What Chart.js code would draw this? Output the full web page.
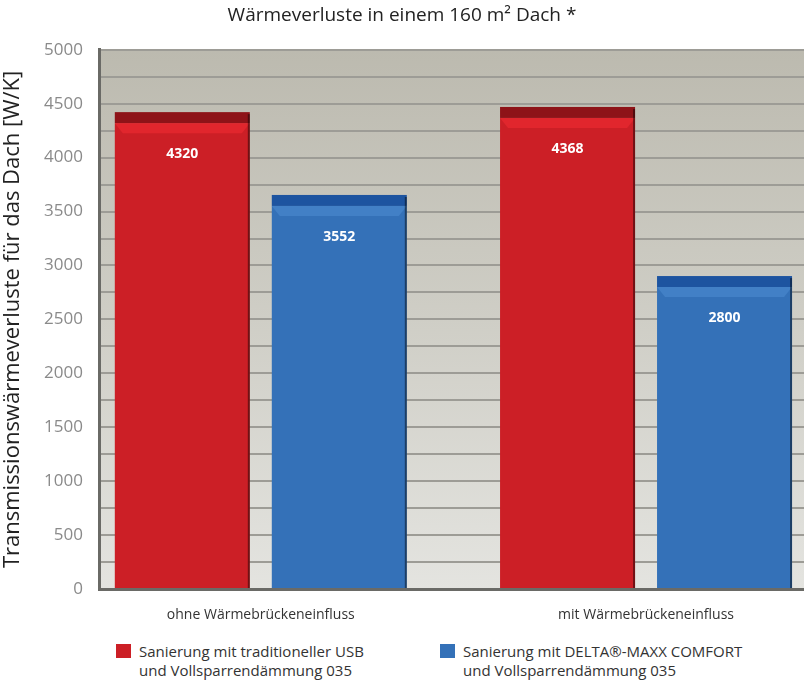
<!DOCTYPE html>
<html lang="de">
<head>
<meta charset="utf-8">
<title>Wärmeverluste in einem 160 m² Dach</title>
<script src="https://cdn.jsdelivr.net/npm/chart.js@4"></script>
<style>
  html, body { margin: 0; padding: 0; background: #fff; }
  body { width: 804px; height: 683px; position: relative; overflow: hidden;
         font-family: "Open Sans", "DejaVu Sans", sans-serif; }
  #wrap { position: absolute; left: 0; top: 0; width: 804px; height: 632px; }
  .legend { position: absolute; top: 642px; font-size: 15px; line-height: 19px; color: #333; }
  .legend .sq { position: absolute; left: 0; top: 2px; width: 15px; height: 14px; }
  .legend .txt { position: absolute; left: 23px; top: 0; white-space: nowrap; }
</style>
</head>
<body>
<div id="wrap"><canvas id="chart"></canvas></div>
<div class="legend" style="left:116px"><span class="sq" style="background:#cc1f26"></span><span class="txt">Sanierung mit traditioneller USB<br>und Vollsparrendämmung 035</span></div>
<div class="legend" style="left:440px"><span class="sq" style="background:#3471b8"></span><span class="txt">Sanierung mit DELTA®-MAXX COMFORT<br>und Vollsparrendämmung 035</span></div>
<script>
  // --- data ---
  const categories = ["ohne Wärmebrückeneinfluss", "mit Wärmebrückeneinfluss"];
  const seriesNames = [
    "Sanierung mit traditioneller USB und Vollsparrendämmung 035",
    "Sanierung mit DELTA®-MAXX COMFORT und Vollsparrendämmung 035",
  ];
  const usbValues = [4320, 4368];
  const deltaValues = [3552, 2800];
  const yTicks = [0, 500, 1000, 1500, 2000, 2500, 3000, 3500, 4000, 4500, 5000];

  const RED = "#cc1f26", RED_DARK = "#8e1318", RED_LIGHT = "#e1262d";
  const BLUE = "#3471b8", BLUE_DARK = "#1d54a0", BLUE_LIGHT = "#4280c6";

  // gray plot background
  const plotBg = {
    id: "plotBg",
    beforeDraw(chart) {
      const { ctx, chartArea: a } = chart;
      const g = ctx.createLinearGradient(0, a.top, 0, a.bottom);
      g.addColorStop(0, "#bcbaaf");
      g.addColorStop(0.5, "#cfcec6");
      g.addColorStop(1, "#e4e4e0");
      ctx.save();
      ctx.fillStyle = g;
      ctx.fillRect(a.left, a.top, a.right - a.left, a.bottom - a.top);
      ctx.restore();
    },
  };

  // bevelled top of the bars + value labels
  const barDeco = {
    id: "barDeco",
    afterDatasetsDraw(chart) {
      const { ctx } = chart;
      ctx.save();
      chart.data.datasets.forEach((ds, di) => {
        const meta = chart.getDatasetMeta(di);
        const dark = di === 0 ? RED_DARK : BLUE_DARK;
        const light = di === 0 ? RED_LIGHT : BLUE_LIGHT;
        meta.data.forEach((bar, i) => {
          const l = bar.x - bar.width / 2, r = bar.x + bar.width / 2, t = bar.y;
          ctx.fillStyle = dark;
          ctx.fillRect(l, t - 11, r - l, 11);
          ctx.fillStyle = light;
          ctx.beginPath();
          ctx.moveTo(l, t);
          ctx.lineTo(r, t);
          ctx.lineTo(r - 8, t + 10);
          ctx.lineTo(l + 8, t + 10);
          ctx.closePath();
          ctx.fill();
          ctx.fillStyle = "rgba(0,0,0,0.45)";
          ctx.fillRect(r - 2, t - 9, 2, bar.base - t + 9);
          ctx.fillStyle = "#ffffff";
          ctx.font = "bold 14px 'Open Sans', sans-serif";
          ctx.textAlign = "center";
          ctx.textBaseline = "middle";
          ctx.fillText(String(ds.data[i].y), bar.x, t + 31);
        });
      });
      ctx.restore();
    },
  };

  new Chart(document.getElementById("chart"), {
    type: "bar",
    data: {
      datasets: [
        {
          label: seriesNames[0],
          data: usbValues.map((v, i) => ({ x: i, y: v })),
          backgroundColor: RED,
        },
        {
          label: seriesNames[1],
          data: deltaValues.map((v, i) => ({ x: i, y: v })),
          backgroundColor: BLUE,
        },
      ],
    },
    options: {
      responsive: true,
      maintainAspectRatio: false,
      animation: false,
      categoryPercentage: 0.815,
      barPercentage: 0.86,
      layout: { padding: { left: 0, right: 0, top: 0, bottom: 0 } },
      plugins: {
        legend: { display: false },
        tooltip: { enabled: false },
        title: {
          display: true,
          text: "Wärmeverluste in einem 160 m² Dach *",
          color: "#222",
          font: { family: "'Open Sans', sans-serif", size: 19, weight: "normal" },
          padding: { top: 4, bottom: 23 },
        },
      },
      scales: {
        x: {
          type: "linear",
          offset: false,
          bounds: "data",
          min: -0.42,
          max: 1.41,
          afterBuildTicks(scale) {
            scale.ticks = categories.map((c, i) => ({ value: i }));
          },
          afterFit(scale) { scale.height = 43; },
          grid: { display: false },
          border: { display: true, color: "#6a6a66", width: 3 },
          ticks: {
            padding: 10,
            color: "#333",
            font: { family: "'Open Sans', sans-serif", size: 14 },
            callback: (v) => categories[v],
          },
        },
        y: {
          min: 0,
          max: 5000,
          afterFit(scale) { scale.width = 99; },
          grid: { color: "#9d9c96", lineWidth: 2, drawTicks: false },
          border: { display: true, color: "#6a6a66", width: 3 },
          ticks: {
            stepSize: 250,
            padding: 16,
            color: "#8a8a8a",
            font: { family: "'Open Sans', sans-serif", size: 17 },
            callback: (v) => (yTicks.includes(v) ? String(v) : ""),
          },
          title: {
            display: true,
            text: "Transmissionswärmeverluste für das Dach [W/K]",
            color: "#222",
            font: { family: "'Open Sans', sans-serif", size: 22 },
            padding: { top: 0, bottom: 2 },
          },
        },
      },
    },
    plugins: [plotBg, barDeco],
  });
</script>
</body>
</html>
